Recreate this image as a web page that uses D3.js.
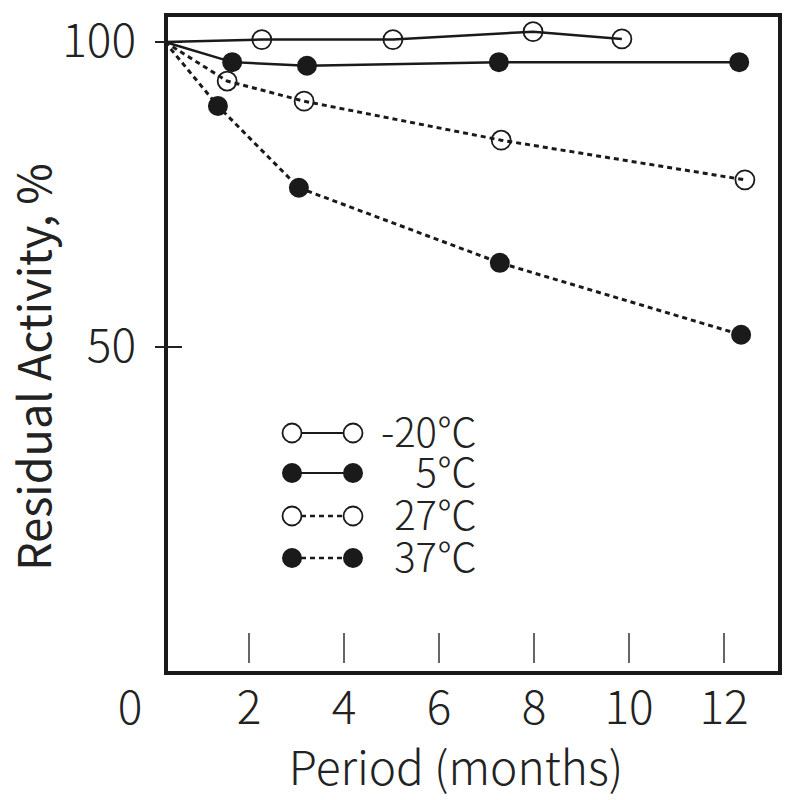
<!DOCTYPE html>
<html>
<head>
<meta charset="utf-8">
<script src="https://cdn.jsdelivr.net/npm/d3@7"></script>
<style>
  body { margin: 0; background: #fff; }
  text { font-family: "Noto Sans CJK JP", "Open Sans", sans-serif; font-weight: 300; fill: #222; }
</style>
</head>
<body>
<div id="chart"></div>
<script>
var width = 800, height = 800;

// data (months, % residual activity)
var seriesNames = ['-20℃', '5℃', '27℃', '37℃'];
var monthsM20 = [0, 2.27, 5.03, 7.98, 9.85];
var activityM20 = [100, 100.4, 100.4, 101.7, 100.5];
var months5 = [0, 1.6, 3.22, 7.26, 12.32];
var activity5 = [100, 96.7, 96.1, 96.7, 96.7];
var months27 = [0, 1.48, 3.16, 7.31, 12.44];
var activity27 = [100, 93.6, 90.3, 83.9, 77.4];
var months37 = [0, 1.26, 3.05, 7.28, 12.36];
var activity37 = [100, 89.5, 76.1, 63.8, 52.0];
var xTicks = [0, 2, 4, 6, 8, 10, 12];
var yTicks = [50, 100];

// plot frame
var frameL = 166, frameR = 780, frameT = 15, frameB = 673;

var svg = d3.select('#chart').append('svg')
    .attr('width', width)
    .attr('height', height);

// the first 2 months are drawn a bit compressed in the original
var x = d3.scaleLinear().domain([0, 2, 12]).range([165, 249, 724]);
var y = d3.scaleLinear().domain([50, 100]).range([347, 42]);

function zip(xs, ys) {
    return xs.map(function(d, i){ return {m: d, v: ys[i]} });
}

var series = [
    {name: seriesNames[0], pts: zip(monthsM20, activityM20), filled: false, dashed: false},
    {name: seriesNames[1], pts: zip(months5, activity5), filled: true, dashed: false},
    {name: seriesNames[2], pts: zip(months27, activity27), filled: false, dashed: true},
    {name: seriesNames[3], pts: zip(months37, activity37), filled: true, dashed: true}
];

// frame
svg.append('rect')
    .attr('x', frameL).attr('y', frameT)
    .attr('width', frameR - frameL).attr('height', frameB - frameT)
    .attr('fill', 'none')
    .attr('stroke', '#1a1a1a')
    .attr('stroke-width', 4);

// y ticks: short marks crossing the left edge
svg.selectAll('.ytick').data(yTicks).enter().append('line')
    .attr('x1', 155).attr('x2', 182)
    .attr('y1', function(d){ return y(d) })
    .attr('y2', function(d){ return y(d) })
    .attr('stroke', '#222').attr('stroke-width', 2);

svg.selectAll('.ylab').data(yTicks).enter().append('text')
    .attr('x', 136)
    .attr('y', function(d){ return y(d) })
    .attr('dy', '0.33em')
    .attr('text-anchor', 'end')
    .attr('font-size', 46)
    .text(function(d){ return d });

// x ticks inside the bottom edge
svg.selectAll('.xtick').data(xTicks.slice(1)).enter().append('line')
    .attr('x1', function(d){ return x(d) })
    .attr('x2', function(d){ return x(d) })
    .attr('y1', 633).attr('y2', 663)
    .attr('stroke', '#333').attr('stroke-width', 1.5);

svg.selectAll('.xlab').data(xTicks).enter().append('text')
    .attr('x', function(d){ return d == 0 ? x(d) - 35 : x(d) })
    .attr('y', 724)
    .attr('text-anchor', 'middle')
    .attr('font-size', 46)
    .text(function(d){ return d });

// axis titles
svg.append('text')
    .attr('x', 456).attr('y', 785)
    .attr('text-anchor', 'middle')
    .attr('font-size', 46)
    .text('Period (months)');

svg.append('text')
    .attr('transform', 'translate(51,367) rotate(-90)')
    .attr('text-anchor', 'middle')
    .attr('font-size', 45)
    .style('font-weight', 400)
    .text('Residual Activity, %');

// lines
var line = d3.line()
    .x(function(d){ return x(d.m) })
    .y(function(d){ return y(d.v) });

svg.selectAll('.series').data(series).enter().append('path')
    .attr('d', function(d){ return line(d.pts) })
    .attr('fill', 'none')
    .attr('stroke', '#1a1a1a')
    .attr('stroke-width', function(d){ return d.dashed ? 3 : 2.5 })
    .attr('stroke-dasharray', function(d){ return d.dashed ? '5,4' : null });

// markers (skip the shared start point)
series.forEach(function(s){
    svg.selectAll(null).data(s.pts.slice(1)).enter().append('circle')
        .attr('cx', function(d){ return x(d.m) })
        .attr('cy', function(d){ return y(d.v) })
        .attr('r', s.filled ? 10 : 9.5)
        .attr('fill', s.filled ? '#1a1a1a' : 'none')
        .attr('stroke', '#1a1a1a')
        .attr('stroke-width', s.filled ? 0 : 1.8);
});

// legend
var legY = [433, 473, 516, 558];
var leg = svg.selectAll('.leg').data(series).enter().append('g')
    .attr('transform', function(d, i){ return 'translate(0,' + legY[i] + ')' });

leg.append('line')
    .attr('x1', 292).attr('x2', 353)
    .attr('stroke', '#1a1a1a')
    .attr('stroke-width', function(d){ return d.dashed ? 2.5 : 2 })
    .attr('stroke-dasharray', function(d){ return d.dashed ? '5,4' : null });

leg.selectAll('circle').data(function(d){ return [d, d] }).enter().append('circle')
    .attr('cx', function(d, i){ return i == 0 ? 292 : 353 })
    .attr('r', function(d){ return d.filled ? 10 : 9.5 })
    .attr('fill', function(d){ return d.filled ? '#1a1a1a' : '#fff' })
    .attr('stroke', '#1a1a1a')
    .attr('stroke-width', function(d){ return d.filled ? 0 : 1.8 });

leg.append('text')
    .attr('x', 477)
    .attr('dy', '0.34em')
    .attr('text-anchor', 'end')
    .attr('font-size', 40)
    .text(function(d){ return d.name });
</script>
</body>
</html>
